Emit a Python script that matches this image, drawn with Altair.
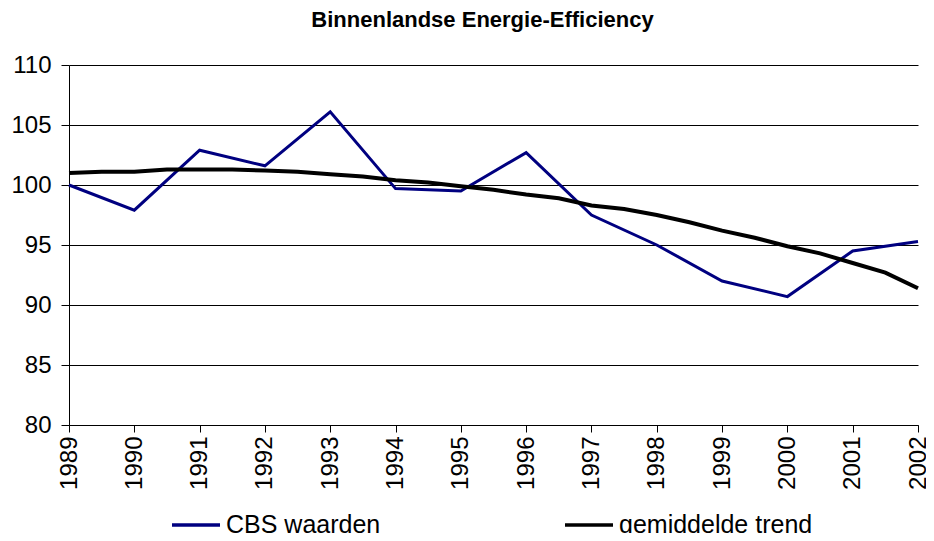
import altair as alt
import pandas as pd

# CBS yearly values
cbs_years = [1989, 1990, 1991, 1992, 1993, 1994, 1995, 1996, 1997, 1998, 1999, 2000, 2001, 2002]
cbs_values = [100.0, 97.9, 102.9, 101.6, 106.1, 99.7, 99.5, 102.7, 97.5, 95.0, 92.0, 90.7, 94.5, 95.3]

# average trend (half-year resolution)
trend_years = [1989.0, 1989.5, 1990.0, 1990.5, 1991.0, 1991.5, 1992.0, 1992.5, 1993.0, 1993.5,
               1994.0, 1994.5, 1995.0, 1995.5, 1996.0, 1996.5, 1997.0, 1997.5, 1998.0, 1998.5,
               1999.0, 1999.5, 2000.0, 2000.5, 2001.0, 2001.5, 2002.0]
trend_values = [101.0, 101.1, 101.1, 101.3, 101.3, 101.3, 101.2, 101.1, 100.9, 100.7,
                100.4, 100.2, 99.9, 99.6, 99.2, 98.9, 98.3, 98.0, 97.5, 96.9,
                96.2, 95.6, 94.9, 94.3, 93.5, 92.7, 91.4]

series_names = ["CBS waarden", "gemiddelde trend"]
series_colors = ["#000080", "#000000"]
year_ticks = list(range(1989, 2003))
y_ticks = [80, 85, 90, 95, 100, 105, 110]

cbs_df = pd.DataFrame({"jaar": cbs_years, "waarde": cbs_values, "reeks": series_names[0]})
trend_df = pd.DataFrame({"jaar": trend_years, "waarde": trend_values, "reeks": series_names[1]})

FONT = "Liberation Sans"

x_enc = alt.X("jaar:Q",
              scale=alt.Scale(domain=[1989, 2002], nice=False, zero=False),
              axis=alt.Axis(values=year_ticks, format="d", labelAngle=270, grid=False,
                            title=None, tickSize=7, labelPadding=4, labelFontSize=24,
                            labelFont=FONT, labelColor="#000000", domainColor="#000000",
                            tickColor="#000000", labelFlush=False, labelOverlap=False))
y_enc = alt.Y("waarde:Q",
              scale=alt.Scale(domain=[80, 110], nice=False, zero=False),
              axis=alt.Axis(values=y_ticks, grid=True, gridColor="#000000", gridOpacity=1,
                            title=None, tickSize=8, labelPadding=10, labelFontSize=24,
                            labelFont=FONT, labelColor="#000000", domainColor="#000000",
                            tickColor="#000000", labelFlush=False))
color_enc = alt.Color("reeks:N",
                      scale=alt.Scale(domain=series_names, range=series_colors),
                      legend=alt.Legend(title=None, orient="none", direction="horizontal",
                                        legendX=101, legendY=434, symbolType="stroke",
                                        symbolSize=2304, symbolStrokeWidth=3.5,
                                        labelFontSize=25, labelFont=FONT, labelColor="#000000",
                                        labelOffset=4, columnPadding=177, labelLimit=400))

cbs_line = alt.Chart(cbs_df).mark_line(strokeWidth=3).encode(x=x_enc, y=y_enc, color=color_enc)
trend_line = alt.Chart(trend_df).mark_line(strokeWidth=4).encode(x=x_enc, y=y_enc, color=color_enc)

chart = alt.layer(cbs_line, trend_line).properties(
    width=849,
    height=360,
    title=alt.TitleParams("Binnenlandse Energie-Efficiency", font=FONT, fontSize=22,
                          fontWeight="bold", color="#000000", anchor="middle", offset=21, dx=-11),
    autosize=alt.AutoSizeParams(type="none"),
    padding={"left": 61, "top": 57, "right": 8, "bottom": 108},
    background="#ffffff",
).configure_view(stroke=None)

chart.save("out.html", embed_options={"renderer": "svg", "actions": False})
